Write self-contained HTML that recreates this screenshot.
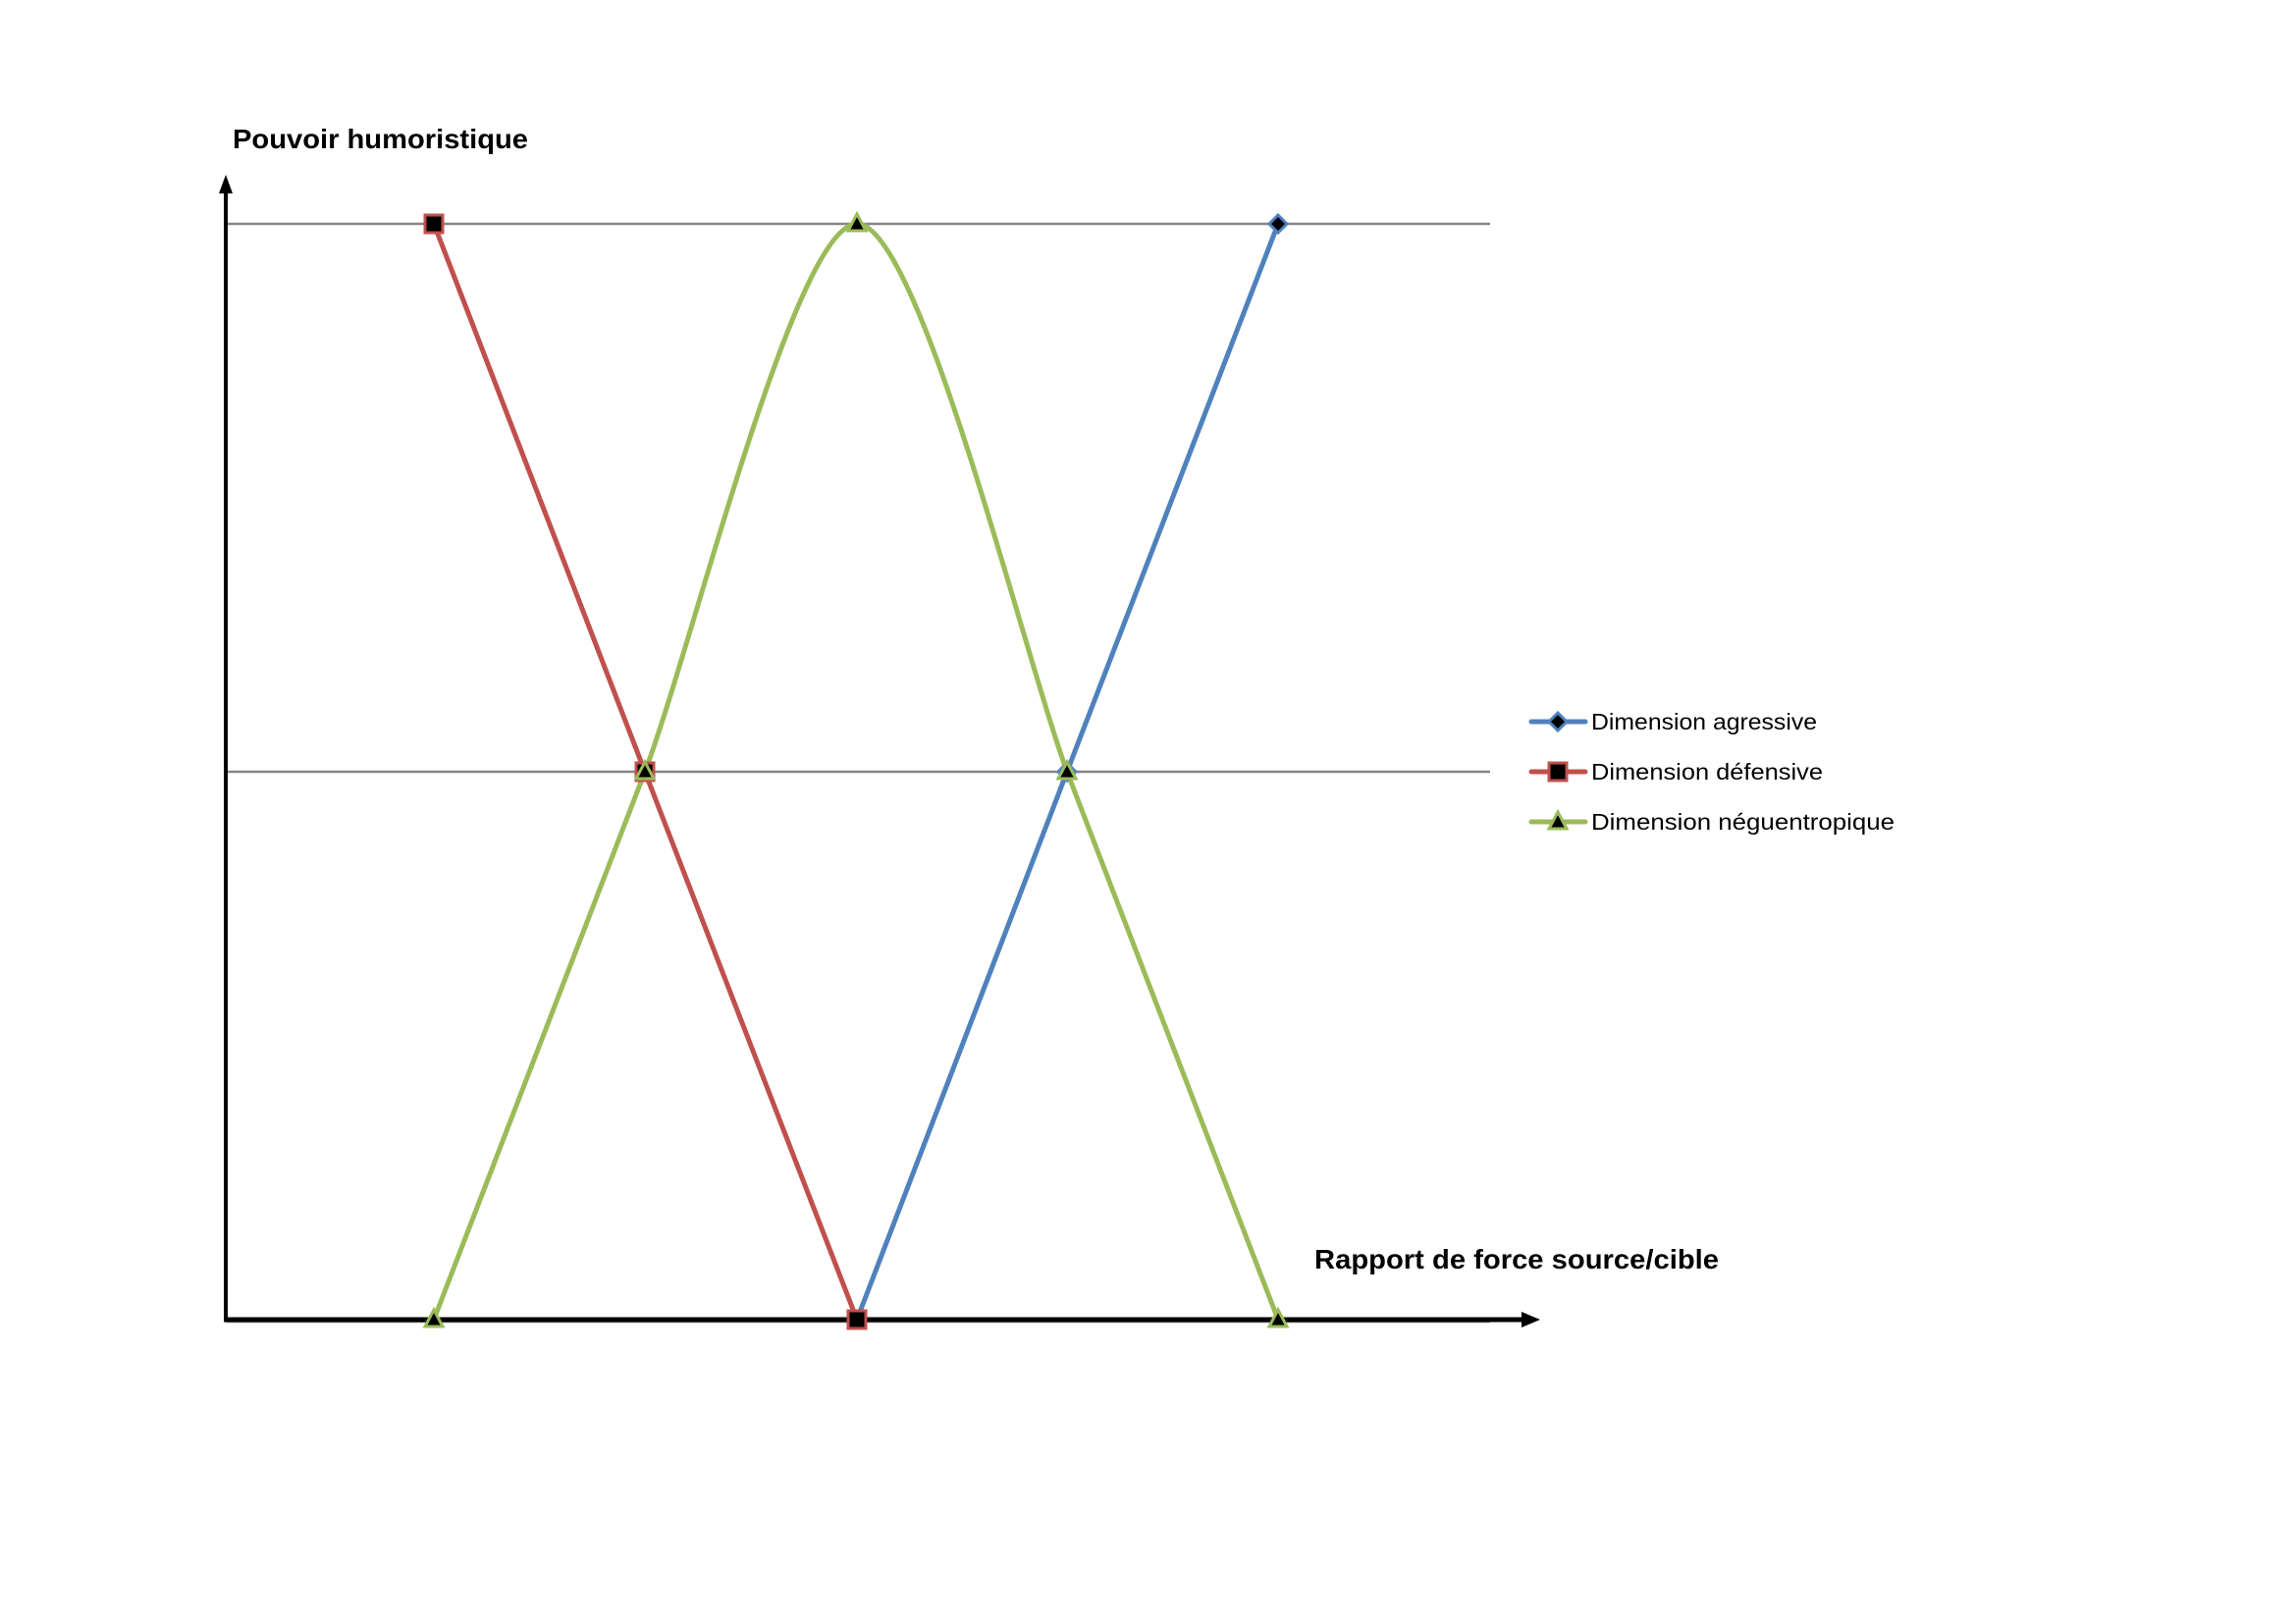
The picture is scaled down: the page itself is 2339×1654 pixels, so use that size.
<!DOCTYPE html>
<html><head><meta charset="utf-8"><style>html,body{margin:0;padding:0;background:#fff}svg{display:block}</style></head>
<body>
<svg width="2339" height="1654" viewBox="0 0 2339 1654" xmlns="http://www.w3.org/2000/svg" font-family="Liberation Sans, sans-serif">
<line x1="230" y1="228" x2="1518" y2="228" stroke="#868686" stroke-width="2.5"/>
<line x1="230" y1="786" x2="1518" y2="786" stroke="#868686" stroke-width="2.5"/>
<line x1="230" y1="1346" x2="1518" y2="1346" stroke="#868686" stroke-width="2.5"/>
<!-- axes -->
<line x1="230" y1="1344" x2="230" y2="195" stroke="#000" stroke-width="4"/>
<polygon points="230,178 223,197 237,197" fill="#000"/>
<line x1="228" y1="1344" x2="1552" y2="1344" stroke="#000" stroke-width="5"/>
<polygon points="1569,1344 1550,1336 1550,1352" fill="#000"/>
<!-- blue -->
<polyline points="873,1344 1087,786 1302,228" fill="none" stroke="#4f81bd" stroke-width="5"/>
<!-- red -->
<polyline points="442,228 657,786 873,1344" fill="none" stroke="#c0504d" stroke-width="5"/>
<!-- green -->
<path d="M442,1344 L657,786 C705,660 810,228 873,228 C936,228 1041,660 1087,786 L1302,1344" fill="none" stroke="#9bbb59" stroke-width="5"/>
<!-- markers -->
<polygon points="1302,219 1311,228 1302,237 1293,228" fill="#000" stroke="#4f81bd" stroke-width="3"/>
<polygon points="1087,777 1096,786 1087,795 1078,786" fill="#000" stroke="#4f81bd" stroke-width="3"/>
<rect x="433" y="219" width="18" height="18" fill="#000" stroke="#c0504d" stroke-width="3"/>
<rect x="648" y="777" width="18" height="18" fill="#000" stroke="#c0504d" stroke-width="3"/>
<rect x="864" y="1335" width="18" height="18" fill="#000" stroke="#c0504d" stroke-width="3"/>
<g fill="#000" stroke="#9bbb59" stroke-width="3">
<polygon points="442,1334 451,1351 433,1351"/>
<polygon points="657,776 666,793 648,793"/>
<polygon points="873,218 882,235 864,235"/>
<polygon points="1087,776 1096,793 1078,793"/>
<polygon points="1302,1334 1311,1351 1293,1351"/>
</g>
<!-- labels -->
<text x="237" y="151" font-size="28" font-weight="bold" textLength="301" lengthAdjust="spacingAndGlyphs">Pouvoir humoristique</text>
<text x="1339" y="1292" font-size="28" font-weight="bold" textLength="412" lengthAdjust="spacingAndGlyphs">Rapport de force source/cible</text>
<!-- legend -->
<line x1="1560" y1="735" x2="1615" y2="735" stroke="#4f81bd" stroke-width="5" stroke-linecap="round"/>
<polygon points="1587,726 1596,735 1587,744 1578,735" fill="#000" stroke="#4f81bd" stroke-width="3"/>
<text x="1621" y="743" font-size="23" textLength="230" lengthAdjust="spacingAndGlyphs">Dimension agressive</text>
<line x1="1560" y1="786" x2="1615" y2="786" stroke="#c0504d" stroke-width="5" stroke-linecap="round"/>
<rect x="1578" y="777" width="18" height="18" fill="#000" stroke="#c0504d" stroke-width="3"/>
<text x="1621" y="794" font-size="23" textLength="236" lengthAdjust="spacingAndGlyphs">Dimension défensive</text>
<line x1="1560" y1="837" x2="1615" y2="837" stroke="#9bbb59" stroke-width="5" stroke-linecap="round"/>
<polygon points="1587,827 1596,844 1578,844" fill="#000" stroke="#9bbb59" stroke-width="3"/>
<text x="1621" y="845" font-size="23" textLength="309" lengthAdjust="spacingAndGlyphs">Dimension néguentropique</text>
</svg>
</body></html>
